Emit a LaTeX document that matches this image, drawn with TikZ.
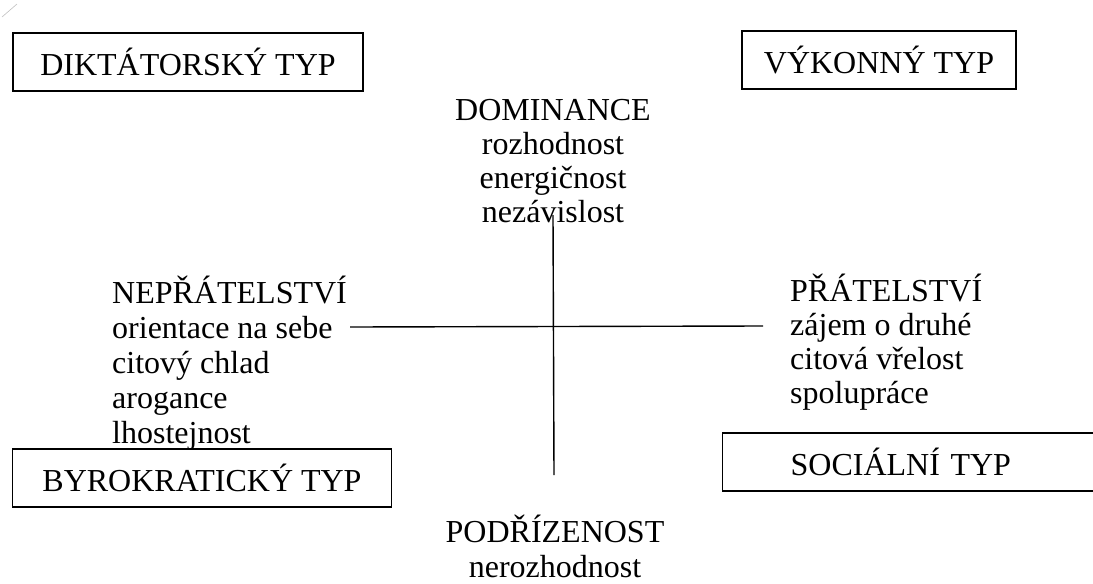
\documentclass[tikz,border=0pt]{standalone}
\usepackage{fontspec}
\setmainfont{Liberation Serif}

\begin{document}
\begin{tikzpicture}[x=1pt,y=-1pt,
  typbox/.style={draw,line width=1.2pt,minimum height=58pt,inner sep=0pt,
                 font=\fontsize{32}{35}\selectfont},
  lbl/.style={inner sep=0pt,font=\fontsize{32}{35}\selectfont},
  axis/.style={draw,line width=1.4pt},
]
  \useasboundingbox (0,0) rectangle (1093,584);
  \draw[black!25,line width=0.6pt] (2,17) -- (17,4);

  % the four types
  \node[typbox,minimum width=350pt] (dikt) at (188,62)   {DIKTÁTORSKÝ TYP};
  \node[typbox,minimum width=274pt] (vyk)  at (879,60)   {VÝKONNÝ TYP};
  \node[typbox,minimum width=379pt] (byro) at (202,478)  {BYROKRATICKÝ TYP};
  \node[typbox,anchor=west,text width=240pt,inner xsep=68pt,align=left]
       (soc) at (722,462) {SOCIÁLNÍ TYP};

  % the four poles (base = last line)
  \node[lbl,anchor=base,align=center,font=\fontsize{32}{34}\selectfont]
       (dom) at (553,222)
       {DOMINANCE\\rozhodnost\\energičnost\\nezávislost};
  \node[lbl,anchor=base west,align=left] (nepr) at (112,443)
       {NEPŘÁTELSTVÍ\\orientace na sebe\\citový chlad\\arogance\\lhostejnost};
  \node[lbl,anchor=base west,align=left,font=\fontsize{32}{34}\selectfont]
       (prat) at (790,403)
       {PŘÁTELSTVÍ\\zájem o druhé\\citová vřelost\\spolupráce};
  \node[lbl,anchor=base,align=center] (podr) at (555,577)
       {PODŘÍZENOST\\nerozhodnost};

  % axes
  \coordinate (vtop) at (553,215);
  \coordinate (vbot) at (554,475);
  \coordinate (hlft) at (350,327);
  \coordinate (hrgt) at (763,326);
  \draw[axis] (vtop) -- (vbot);
  \draw[axis] (hlft) -- (hrgt);
\end{tikzpicture}
\end{document}
